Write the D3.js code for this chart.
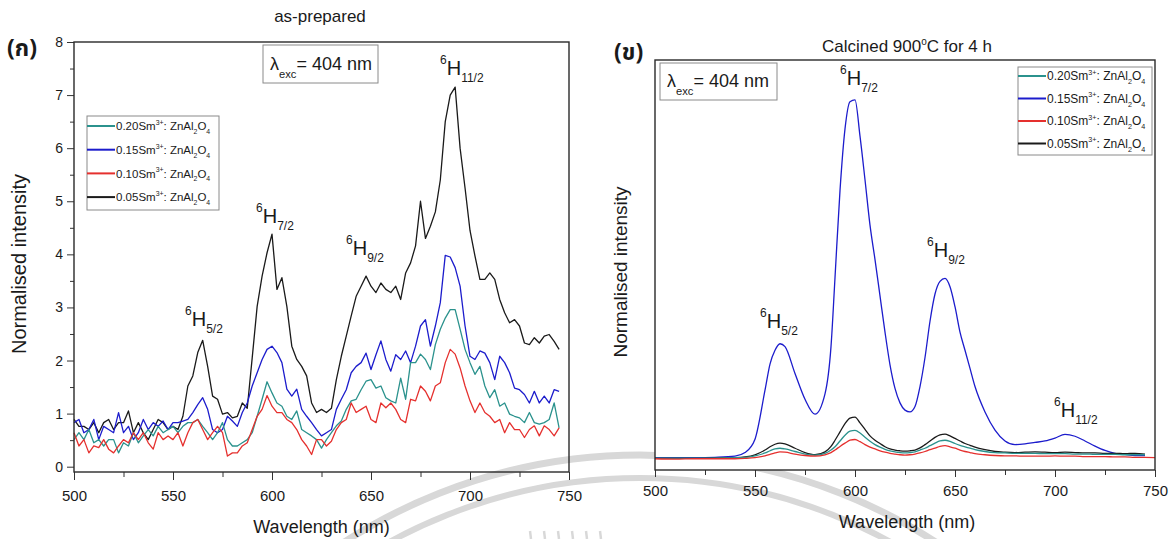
<!DOCTYPE html>
<html>
<head>
<meta charset="utf-8">
<script src="https://cdn.jsdelivr.net/npm/d3@7"></script>
<style>
  html, body { margin: 0; padding: 0; background: #fff; }
  svg { display: block; }
  text { font-family: "Liberation Sans", Arial, Helvetica, sans-serif; fill: #1a1a1a; }
</style>
</head>
<body>
<script>
// ---------- (a) as-prepared emission spectra, 2.5 nm sampling ----------
const wavelengthAsPrepared = d3.range(500, 745.1, 2.5);

const asPrepared005 = [
  0.89,0.76,0.76,0.70,0.83,0.64,0.83,0.89,0.70,0.83,
  0.83,1.05,0.64,0.83,0.64,0.51,0.70,0.89,0.83,0.70,
  0.76,0.70,0.95,1.52,1.71,2.15,2.38,1.89,1.33,1.27,
  0.99,1.02,0.92,0.95,1.20,1.10,2.05,3.02,3.59,4.03,
  4.38,3.34,3.56,3.02,2.27,2.02,1.89,1.71,1.20,1.02,
  1.08,1.02,1.10,1.64,2.08,2.46,2.84,3.21,3.40,3.59,
  3.40,3.28,3.46,3.34,3.28,3.40,3.15,3.65,3.84,4.16,
  5.00,4.30,4.53,4.80,5.40,6.50,7.00,7.15,6.00,5.25,
  4.45,3.97,3.53,3.53,3.65,3.53,3.15,2.90,2.71,2.77,
  2.65,2.33,2.30,2.43,2.33,2.46,2.49,2.36,2.21
];
const asPrepared015 = [
  0.83,0.89,0.64,0.70,0.89,0.51,0.76,0.70,0.64,1.02,
  0.64,0.76,0.51,0.64,0.89,0.70,0.83,0.76,0.86,0.70,
  0.83,0.83,0.86,0.89,1.02,1.17,1.30,1.08,0.70,0.64,
  0.70,0.95,0.86,0.76,1.02,1.20,1.52,1.77,2.02,2.21,
  2.27,2.15,1.96,1.46,1.33,1.46,1.08,0.95,0.83,0.70,
  0.58,0.64,0.70,1.08,1.27,1.45,1.77,1.89,1.96,2.14,
  1.83,2.11,2.37,2.02,1.80,2.11,2.02,2.18,1.96,2.27,
  2.65,2.77,2.27,2.65,3.09,3.98,3.95,3.75,3.40,2.65,
  2.08,2.02,2.18,2.14,1.96,1.64,2.08,1.96,1.77,1.48,
  1.45,1.36,1.20,1.42,1.20,1.33,1.20,1.45,1.42
];
const asPrepared020 = [
  0.51,0.64,0.51,0.70,0.45,0.51,0.39,0.51,0.51,0.26,
  0.45,0.39,0.64,0.45,0.58,0.70,0.58,0.76,0.64,0.70,
  0.76,0.64,0.76,0.83,0.83,0.89,0.76,0.64,0.51,0.64,
  0.83,0.51,0.39,0.39,0.45,0.51,0.64,0.95,1.27,1.60,
  1.39,1.20,1.14,0.95,0.89,1.05,0.70,0.64,0.58,0.51,
  0.35,0.51,0.64,0.77,0.86,1.08,1.24,1.27,1.45,1.61,
  1.64,1.48,1.52,1.30,1.24,1.20,1.67,1.27,1.96,1.96,
  2.12,2.02,1.83,2.30,2.59,2.80,2.96,2.96,2.59,2.21,
  1.96,1.74,1.89,1.52,1.30,1.45,1.14,1.20,0.99,0.95,
  0.92,0.83,1.02,0.83,0.80,0.83,0.89,1.20,0.73
];
const asPrepared010 = [
  0.64,0.39,0.51,0.26,0.39,0.36,0.51,0.33,0.26,0.39,
  0.51,0.45,0.64,0.51,0.64,0.45,0.33,0.64,0.51,0.58,
  0.51,0.64,0.39,0.64,0.83,0.89,0.70,0.51,0.64,0.76,
  0.64,0.20,0.26,0.26,0.39,0.45,0.70,0.95,1.08,1.34,
  1.14,1.02,1.02,0.89,0.83,0.70,0.51,0.39,0.23,0.51,
  0.51,0.39,0.48,0.70,0.83,0.89,1.20,1.02,1.08,1.14,
  0.89,0.83,1.20,1.11,1.20,1.08,0.89,0.83,1.27,1.24,
  1.52,1.42,1.24,1.52,1.58,1.96,2.21,2.12,1.86,1.52,
  1.24,1.02,1.20,1.02,0.95,0.83,0.89,0.64,0.83,0.70,
  0.70,0.55,0.70,0.77,0.58,0.77,0.70,0.58,0.73
];

// ---------- (b) calcined 900 °C for 4 h, normalised to the 6H7/2 maximum ----------
const wavelengthCalcined = [
  500,510,520,530,540,545,550,555,557.5,560,562.5,565,570,575,580,585,588,590,592.5,595,
  597.5,600,602.5,605,607.5,610,612.5,615,617.5,620,622.5,625,627.5,630,632.5,635,637.5,
  640,642.5,645,647.5,650,652.5,655,657.5,660,665,670,675,680,685,690,695,700,705,710,715,
  720,725,730,735,740,745,750
];
const calcined015 = [
  0.004,0.004,0.004,0.005,0.008,0.018,0.055,0.19,0.262,0.30,
  0.318,0.31,0.236,0.165,0.124,0.18,0.31,0.50,0.74,0.91,
  0.985,0.99,0.89,0.77,0.645,0.55,0.45,0.35,0.26,0.195,
  0.155,0.135,0.13,0.145,0.20,0.28,0.38,0.455,0.49,0.498,
  0.475,0.42,0.35,0.30,0.25,0.20,0.13,0.08,0.05,0.04,
  0.042,0.046,0.05,0.058,0.068,0.063,0.05,0.036,0.024,0.016,
  0.013,0.01,0.01,null
];
const calcined005 = [
  0.002,0.002,0.002,0.003,0.004,0.006,0.012,0.025,0.034,0.041,
  0.044,0.042,0.03,0.018,0.012,0.02,0.035,0.052,0.075,0.098,
  0.113,0.116,0.10,0.082,0.064,0.052,0.043,0.034,0.028,0.025,
  0.023,0.022,0.023,0.025,0.031,0.04,0.05,0.06,0.067,0.069,
  0.064,0.057,0.05,0.043,0.038,0.033,0.026,0.021,0.019,0.018,
  0.019,0.02,0.019,0.018,0.019,0.018,0.017,0.017,0.016,0.016,
  0.015,0.016,0.014,null
];
const calcined020 = [
  0.003,0.003,0.003,0.003,0.004,0.005,0.009,0.017,0.023,0.028,
  0.03,0.028,0.021,0.014,0.011,0.016,0.025,0.034,0.05,0.066,
  0.077,0.079,0.072,0.06,0.049,0.04,0.033,0.027,0.023,0.02,
  0.018,0.017,0.018,0.02,0.025,0.03,0.037,0.044,0.05,0.052,
  0.049,0.043,0.038,0.034,0.03,0.026,0.021,0.018,0.017,0.016,
  0.016,0.016,0.015,0.015,0.015,0.014,0.014,0.013,0.013,0.013,
  0.012,0.012,0.012,null
];
const calcined010 = [
  0.001,0.0,0.001,0.001,0.001,0.002,0.004,0.009,0.013,0.017,
  0.02,0.019,0.014,0.01,0.008,0.012,0.018,0.025,0.035,0.044,
  0.052,0.054,0.048,0.04,0.033,0.028,0.023,0.019,0.016,0.014,
  0.012,0.011,0.012,0.014,0.017,0.021,0.026,0.03,0.035,0.037,
  0.034,0.03,0.025,0.021,0.018,0.015,0.012,0.01,0.009,0.009,
  0.008,0.008,0.008,0.009,0.008,0.008,0.007,0.007,0.007,0.006,
  0.006,0.005,0.005,0.004
];

const concentrations = ["0.20", "0.15", "0.10", "0.05"];
const seriesColors = ["#2b928d", "#1c1ccc", "#e5302e", "#1a1a1a"];
const xTicks = [500, 550, 600, 650, 700, 750];
const xMinorTicks = [525, 575, 625, 675, 725];
const yTicksAsPrepared = [0, 1, 2, 3, 4, 5, 6, 7, 8];
const yMinorAsPrepared = [0.5, 1.5, 2.5, 3.5, 4.5, 5.5, 6.5, 7.5];
const transitionsAsPrepared = [
  { j: "5/2", w: 563 }, { j: "7/2", w: 600 }, { j: "9/2", w: 645 }, { j: "11/2", w: 691 }
];
const transitionsCalcined = [
  { j: "5/2", w: 563 }, { j: "7/2", w: 600 }, { j: "9/2", w: 645 }, { j: "11/2", w: 706 }
];

// ---------- drawing ----------
const W = 1173, H = 539;
const svg = d3.select("body").append("svg").attr("width", W).attr("height", H);

// faint seal watermark behind everything
const wm = svg.append("g").attr("fill", "none").attr("stroke", "#d8d8d8");
wm.append("circle").attr("cx", 640).attr("cy", 1000).attr("r", 545).attr("stroke-width", 7);
wm.append("circle").attr("cx", 640).attr("cy", 1000).attr("r", 522).attr("stroke-width", 6);
[530, 544, 558, 572, 586, 600].forEach(x => {
  wm.append("line").attr("x1", x).attr("x2", x + 1).attr("y1", 531).attr("y2", 539).attr("stroke-width", 2.5);
});

// text with super/subscript runs
function richText(parent, x, y, parts, size, anchor) {
  const t = parent.append("text").attr("x", x).attr("y", y).attr("font-size", size);
  if (anchor) t.attr("text-anchor", anchor);
  let cur = 0;
  parts.forEach(p => {
    const shift = p.sup ? -size * (p.supShift || 0.5) : p.sub ? size * (p.subShift || 0.32) : 0;
    const ts = t.append("tspan").attr("dy", shift - cur).text(p.t);
    if (p.sup || p.sub) ts.attr("font-size", size * (p.scale || 0.6));
    cur = shift;
  });
  return t;
}

function legendParts(c) {
  return [
    { t: c + "Sm" }, { t: "3+", sup: true, supShift: 0.45 }, { t: ": ZnAl" },
    { t: "2", sub: true }, { t: "O" }, { t: "4", sub: true }
  ];
}

function drawPanel(cfg) {
  const g = svg.append("g");
  const x = d3.scaleLinear().domain([500, 750]).range([cfg.left, cfg.right]);
  const y = d3.scaleLinear().domain(cfg.yDomain).range([cfg.bottom, cfg.top]);

  if (cfg.opaque) {
    g.append("rect").attr("x", cfg.left).attr("y", cfg.top)
      .attr("width", cfg.right - cfg.left).attr("height", cfg.bottom - cfg.top).attr("fill", "#fff");
  }

  // bottom axis, major + minor
  const fmt = d3.format("d");
  const bx = g.append("g").attr("transform", `translate(0,${cfg.bottom})`)
    .call(d3.axisBottom(x).tickValues(xTicks).tickSize(cfg.xMajor).tickPadding(cfg.xPad).tickFormat(fmt));
  bx.select(".domain").remove();
  bx.attr("font-family", null).attr("font-size", cfg.tickFont);
  bx.selectAll("text").attr("fill", "#1a1a1a");
  bx.selectAll("line").attr("stroke", "#333");
  const bm = g.append("g").attr("transform", `translate(0,${cfg.bottom})`)
    .call(d3.axisBottom(x).tickValues(xMinorTicks).tickSize(5).tickFormat(""));
  bm.select(".domain").remove();
  bm.selectAll("line").attr("stroke", "#333");

  if (cfg.yTicks) {
    const ly = g.append("g").attr("transform", `translate(${cfg.left},0)`)
      .call(d3.axisLeft(y).tickValues(cfg.yTicks).tickSize(7).tickPadding(4).tickFormat(fmt));
    ly.select(".domain").remove();
    ly.attr("font-family", null).attr("font-size", cfg.yTickFont);
    ly.selectAll("text").attr("fill", "#1a1a1a");
    ly.selectAll("line").attr("stroke", "#333");
    const lm = g.append("g").attr("transform", `translate(${cfg.left},0)`)
      .call(d3.axisLeft(y).tickValues(cfg.yMinor).tickSize(4).tickFormat(""));
    lm.select(".domain").remove();
    lm.selectAll("line").attr("stroke", "#333");
  }

  // spectra
  const line = d3.line()
    .defined(d => d != null)
    .x((d, i) => x(cfg.wavelength[i]))
    .y(d => y(d))
    .curve(cfg.curve);
  cfg.drawOrder.forEach(k => {
    g.append("path").datum(cfg.series[k])
      .attr("fill", "none").attr("stroke", seriesColors[k])
      .attr("stroke-width", cfg.lineWidth).attr("stroke-linejoin", "round")
      .attr("d", line);
  });

  // frame
  g.append("rect").attr("x", cfg.left).attr("y", cfg.top)
    .attr("width", cfg.right - cfg.left).attr("height", cfg.bottom - cfg.top)
    .attr("fill", "none").attr("stroke", "#2a2a2a").attr("stroke-width", 1.4);

  // legend
  const L = cfg.legend;
  g.append("rect").attr("x", L.x).attr("y", L.y).attr("width", L.w).attr("height", L.h)
    .attr("fill", "#fff").attr("stroke", "#8a8a8a").attr("stroke-width", 1);
  concentrations.forEach((c, i) => {
    const yy = L.y + L.first + i * L.step;
    g.append("line").attr("x1", L.x).attr("x2", L.x + L.line).attr("y1", yy).attr("y2", yy)
      .attr("stroke", seriesColors[i]).attr("stroke-width", 2);
    richText(g, L.x + L.line + 1, yy + L.font * 0.36, legendParts(c), L.font);
  });

  // excitation box
  const E = cfg.exc;
  g.append("rect").attr("x", E.x).attr("y", E.y).attr("width", E.w).attr("height", E.h)
    .attr("fill", "#fff").attr("stroke", "#8a8a8a").attr("stroke-width", 1);
  richText(g, E.x + 7, E.y + E.h * 0.66, [
    { t: "λ" }, { t: "exc", sub: true, subShift: 0.42, scale: 0.62 }, { t: "= 404 nm" }
  ], 18);

  // transition labels
  cfg.labels.forEach((lb, i) => {
    const tr = cfg.transitions[i];
    richText(g, lb.x, lb.y, [
      { t: "6", sup: true, supShift: 0.55, scale: 0.6 }, { t: "H" },
      { t: tr.j, sub: true, subShift: 0.36, scale: 0.6 }
    ], 20);
  });

  // titles
  g.append("text").attr("x", cfg.titleX).attr("y", cfg.titleY).attr("text-anchor", "middle")
    .attr("font-size", 17).call(t => cfg.title(t));
  g.append("text").attr("x", (cfg.left + cfg.right) / 2 + cfg.xTitleDx).attr("y", cfg.xTitleY)
    .attr("text-anchor", "middle").attr("font-size", 18).text("Wavelength (nm)");
  g.append("text").attr("transform", `translate(${cfg.yTitleX},${cfg.yTitleY}) rotate(-90)`)
    .attr("text-anchor", "middle").attr("font-size", cfg.yTitleFont).text("Normalised intensity");
  g.append("text").attr("x", cfg.tagX).attr("y", cfg.tagY).attr("font-size", 23)
    .attr("font-weight", "bold")
    .style("font-family", "'Noto Sans Thai', 'Loma', 'Garuda', 'Liberation Sans', sans-serif")
    .text(cfg.tag);
}

drawPanel({
  left: 74, right: 569, top: 42, bottom: 472,
  yDomain: [-0.1, 8],
  wavelength: wavelengthAsPrepared,
  series: [asPrepared020, asPrepared015, asPrepared010, asPrepared005],
  drawOrder: [3, 1, 0, 2],
  curve: d3.curveLinear, lineWidth: 1.3,
  yTicks: yTicksAsPrepared, yMinor: yMinorAsPrepared,
  xMajor: 8, xPad: 10, tickFont: 15, yTickFont: 14,
  legend: { x: 87, y: 116, w: 132, h: 94, first: 10, step: 23.7, line: 28, font: 11.5 },
  exc: { x: 263, y: 45, w: 115, h: 38 },
  transitions: transitionsAsPrepared,
  labels: [{ x: 185, y: 326 }, { x: 256, y: 223 }, { x: 346, y: 255 }, { x: 440, y: 75 }],
  title: t => t.text("as-prepared"), titleX: 320, titleY: 22,
  xTitleDx: 0, xTitleY: 533, yTitleX: 26, yTitleY: 264, yTitleFont: 20,
  tag: "(ก)", tagX: 7, tagY: 56
});

drawPanel({
  left: 655, right: 1155, top: 60, bottom: 470, opaque: true,
  yDomain: [-0.03, 1.1],
  wavelength: wavelengthCalcined,
  series: [calcined020, calcined015, calcined010, calcined005],
  drawOrder: [1, 3, 0, 2],
  curve: d3.curveMonotoneX, lineWidth: 1.3,
  yTicks: null,
  xMajor: 7, xPad: 8, tickFont: 15,
  legend: { x: 1018, y: 67, w: 134, h: 88, first: 9, step: 22.5, line: 28, font: 12 },
  exc: { x: 660, y: 63, w: 117, h: 37 },
  transitions: transitionsCalcined,
  labels: [{ x: 760, y: 328 }, { x: 840, y: 85 }, { x: 927, y: 257 }, { x: 1054, y: 417 }],
  title: t => {
    t.append("tspan").text("Calcined 900");
    t.append("tspan").attr("dy", -7).attr("font-size", 10).text("o");
    t.append("tspan").attr("dy", 7).text("C for 4 h");
  },
  titleX: 907, titleY: 52,
  xTitleDx: 2, xTitleY: 528, yTitleX: 627, yTitleY: 272, yTitleFont: 19,
  tag: "(ข)", tagX: 614, tagY: 60
});
</script>
</body>
</html>
